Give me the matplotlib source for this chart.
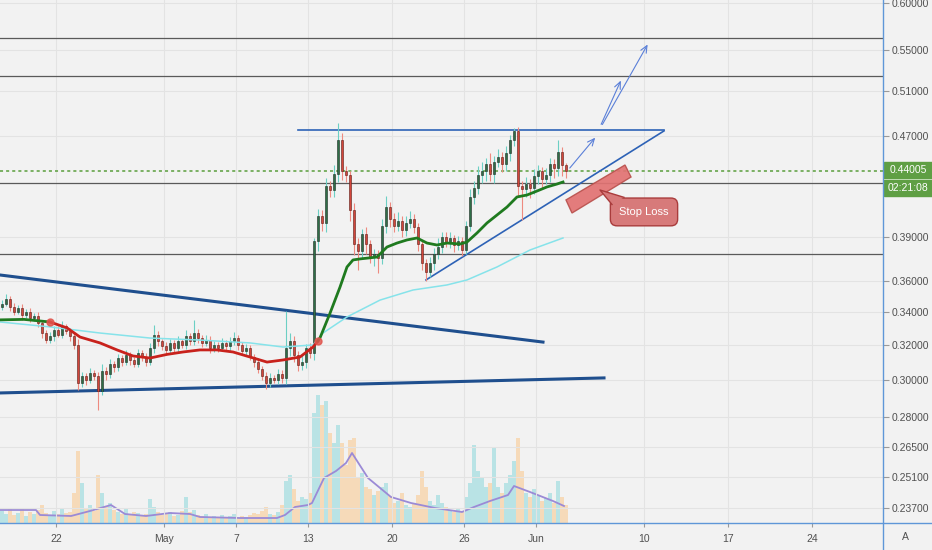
import matplotlib
matplotlib.use("Agg")
import matplotlib.pyplot as plt
import matplotlib.dates as mdates
from matplotlib.patches import Polygon, Rectangle
from matplotlib.lines import Line2D
from matplotlib.ticker import FixedLocator, NullLocator, FixedFormatter
import numpy as np
import pandas as pd

plt.rcParams['font.family'] = ['Liberation Sans', 'DejaVu Sans']

# ---- data (8h candles) ----
candle_start = '2019-04-17 12:00'
first_open = 0.343
closes = [
    0.345, 0.348, 0.343, 0.340, 0.342, 0.338, 0.340, 0.336, 0.337, 0.333,
    0.327, 0.323, 0.325, 0.329, 0.326, 0.331, 0.328, 0.325, 0.320, 0.298,
    0.302, 0.300, 0.304, 0.302, 0.294, 0.305, 0.303, 0.309, 0.307, 0.312,
    0.310, 0.314, 0.311, 0.309, 0.315, 0.313, 0.310, 0.318, 0.326, 0.322,
    0.319, 0.317, 0.321, 0.318, 0.322, 0.320, 0.325, 0.322, 0.327, 0.324,
    0.321, 0.323, 0.318, 0.320, 0.318, 0.321, 0.319, 0.322, 0.324, 0.320,
    0.316, 0.318, 0.313, 0.310, 0.306, 0.302, 0.298, 0.301, 0.300, 0.303,
    0.301, 0.318, 0.322, 0.314, 0.308, 0.310, 0.318, 0.315, 0.387, 0.405,
    0.400, 0.428, 0.425, 0.438, 0.466, 0.440, 0.437, 0.410, 0.385, 0.380,
    0.392, 0.385, 0.376, 0.378, 0.375, 0.398, 0.412, 0.403, 0.398, 0.402,
    0.395, 0.400, 0.403, 0.397, 0.385, 0.372, 0.366, 0.372, 0.378, 0.383,
    0.390, 0.386, 0.389, 0.384, 0.387, 0.381, 0.398, 0.420, 0.427, 0.437,
    0.440, 0.446, 0.438, 0.448, 0.452, 0.446, 0.455, 0.466, 0.474, 0.428,
    0.426, 0.430, 0.427, 0.436, 0.440, 0.434, 0.437, 0.446, 0.443, 0.456,
    0.445, 0.44005]
# wick lengths in % beyond the body
up_wick = [
    0.6, 0.9, 0.5, 0.7, 0.6, 0.8, 0.5, 0.7, 0.6, 0.9,
    0.5, 0.6, 0.8, 0.7, 0.6, 0.9, 0.5, 0.6, 0.7, 1.0,
    0.8, 0.6, 0.9, 0.5, 0.7, 1.2, 0.6, 0.9, 0.5, 0.8,
    0.6, 0.9, 0.5, 0.6, 0.8, 0.5, 0.7, 1.0, 1.8, 0.6,
    0.5, 0.8, 0.7, 0.6, 0.9, 0.5, 1.2, 0.6, 2.4, 0.7,
    0.5, 0.8, 0.6, 0.7, 0.5, 0.9, 0.6, 0.8, 1.1, 0.6,
    0.5, 0.7, 0.6, 0.5, 0.8, 0.6, 0.7, 0.9, 0.6, 1.0,
    0.8, 7.0, 1.5, 0.9, 0.7, 1.2, 0.8, 1.0, 0.6, 1.4,
    1.2, 1.5, 1.0, 1.6, 3.2, 1.3, 1.0, 0.8, 1.2, 1.1,
    0.9, 1.4, 0.8, 1.0, 0.7, 1.2, 2.0, 0.9, 1.1, 1.6,
    0.8, 1.3, 1.5, 0.9, 0.8, 0.7, 0.6, 1.0, 1.2, 1.6,
    1.0, 0.9, 1.2, 0.7, 0.9, 0.8, 1.0, 1.4, 1.2, 1.6,
    1.8, 1.2, 2.0, 1.1, 1.5, 0.9, 1.3, 1.0, 0.6, 0.8,
    1.0, 1.2, 0.9, 1.4, 1.1, 0.8, 1.3, 1.2, 1.0, 2.2,
    1.0, 0.5]
down_wick = [
    0.6, 0.5, 0.8, 0.7, 0.5, 0.9, 0.6, 0.7, 0.5, 0.8,
    1.0, 0.7, 0.6, 0.8, 0.5, 0.7, 0.6, 0.9, 0.8, 1.3,
    0.7, 0.9, 0.6, 0.8, 3.4, 0.8, 1.0, 0.6, 0.9, 0.7,
    0.8, 0.6, 0.9, 0.7, 0.6, 0.8, 0.7, 0.6, 0.9, 0.8,
    0.7, 0.9, 0.6, 0.8, 0.7, 0.6, 0.8, 0.7, 0.6, 0.9,
    0.8, 0.6, 0.9, 0.7, 0.8, 0.6, 0.7, 0.8, 0.6, 0.9,
    0.7, 0.8, 0.6, 0.9, 0.7, 0.8, 1.0, 0.7, 0.6, 0.8,
    0.9, 1.2, 1.5, 1.3, 1.0, 0.8, 1.1, 0.9, 1.2, 1.8,
    1.5, 1.6, 1.3, 1.2, 1.4, 1.6, 1.2, 2.0, 2.0, 3.4,
    1.5, 1.8, 1.2, 1.6, 2.7, 1.0, 1.2, 1.5, 1.1, 0.9,
    1.3, 1.0, 0.8, 1.1, 1.2, 1.4, 1.7, 1.0, 1.3, 0.9,
    1.1, 0.8, 1.0, 1.2, 0.9, 1.1, 0.8, 1.0, 1.4, 1.2,
    1.5, 1.8, 1.3, 1.6, 1.0, 1.4, 1.2, 1.5, 1.0, 2.0,
    5.6, 1.5, 1.8, 1.2, 1.4, 1.6, 1.0, 1.3, 1.8, 1.5,
    2.0, 1.2]
volumes = [
    12, 9, 14, 8, 10, 15, 7, 11, 9, 13,
    18, 10, 8, 12, 9, 14, 10, 11, 30, 72,
    40, 15, 18, 12, 48, 30, 16, 20, 13, 11,
    9, 14, 8, 11, 10, 8, 9, 24, 16, 11,
    8, 9, 11, 7, 8, 12, 26, 11, 13, 8,
    7, 9, 6, 7, 5, 8, 6, 7, 9, 5,
    7, 6, 8, 10, 9, 12, 16, 9, 8, 11,
    18, 42, 48, 34, 22, 26, 24, 30, 110, 128,
    118, 122, 90, 80, 98, 80, 58, 83, 85, 45,
    50, 36, 34, 28, 32, 36, 40, 27, 20, 22,
    30, 18, 16, 20, 28, 52, 36, 22, 18, 28,
    20, 16, 13, 11, 14, 12, 26, 40, 78, 52,
    45, 36, 40, 75, 36, 30, 40, 48, 62, 85,
    52, 30, 26, 34, 27, 22, 25, 30, 20, 42,
    26, 18]

fast_ma_dates = [
    '2019-04-17 08:00', '2019-04-19 08:00', '2019-04-21 12:00', '2019-04-22 22:00',
    '2019-04-24 00:00', '2019-04-25 16:00', '2019-04-27 02:00', '2019-04-28 10:00',
    '2019-04-29 20:00', '2019-05-01 06:00', '2019-05-02 14:00', '2019-05-04 00:00',
    '2019-05-05 10:00', '2019-05-06 18:00', '2019-05-08 04:00', '2019-05-09 14:00',
    '2019-05-10 22:00', '2019-05-12 08:00', '2019-05-13 10:00', '2019-05-13 20:00',
    '2019-05-14 00:00', '2019-05-14 20:00', '2019-05-15 16:00', '2019-05-16 06:00',
    '2019-05-16 18:00', '2019-05-17 08:00', '2019-05-18 18:00', '2019-05-19 14:00',
    '2019-05-20 10:00', '2019-05-21 06:00', '2019-05-22 02:00', '2019-05-22 22:00',
    '2019-05-23 18:00', '2019-05-24 14:00', '2019-05-25 16:00', '2019-05-26 06:00',
    '2019-05-27 02:00', '2019-05-27 22:00', '2019-05-28 18:00', '2019-05-29 14:00',
    '2019-05-30 10:00', '2019-05-31 06:00', '2019-06-01 02:00', '2019-06-01 22:00',
    '2019-06-02 18:00', '2019-06-03 06:00']
fast_ma = [
    0.3349, 0.3352, 0.3336, 0.3300, 0.3245, 0.3210, 0.3169, 0.3134,
    0.3122, 0.3143, 0.3157, 0.3169, 0.3169, 0.3157, 0.3128, 0.3099,
    0.3111, 0.3128, 0.3186, 0.3222, 0.3240, 0.3390, 0.3557, 0.3691,
    0.3739, 0.3746, 0.3759, 0.3829, 0.3857, 0.3879, 0.3893, 0.3857,
    0.3843, 0.3857, 0.3850, 0.3864, 0.3929, 0.4002, 0.4061, 0.4121,
    0.4198, 0.4213, 0.4244, 0.4276, 0.4299, 0.4315]
ma_red_from = '2019-04-21 12:00'
ma_red_to = '2019-05-13 20:00'

slow_ma_dates = [
    '2019-04-17 08:00', '2019-04-21 12:00', '2019-04-25 16:00', '2019-04-29 20:00',
    '2019-05-04 00:00', '2019-05-08 04:00', '2019-05-10 22:00', '2019-05-13 10:00',
    '2019-05-14 06:00', '2019-05-16 06:00', '2019-05-19 00:00', '2019-05-21 18:00',
    '2019-05-24 14:00', '2019-05-26 06:00', '2019-05-28 18:00', '2019-05-31 12:00',
    '2019-06-03 06:00']
slow_ma = [
    0.3336, 0.3306, 0.3269, 0.3239, 0.3227, 0.3210, 0.3186, 0.3198,
    0.3269, 0.3367, 0.3473, 0.3538, 0.3571, 0.3604, 0.3691, 0.3808, 0.3893]

vol_ma_dates = [
    '2019-04-17 08:00', '2019-04-20 08:00', '2019-04-20 16:00', '2019-04-23 06:00',
    '2019-04-24 20:00', '2019-04-26 14:00', '2019-04-27 18:00', '2019-04-29 12:00',
    '2019-05-01 12:00', '2019-05-03 04:00', '2019-05-04 00:00', '2019-05-07 08:00',
    '2019-05-10 10:00', '2019-05-11 02:00', '2019-05-11 22:00', '2019-05-13 00:00',
    '2019-05-13 08:00', '2019-05-14 08:00', '2019-05-15 08:00', '2019-05-16 04:00',
    '2019-05-16 16:00', '2019-05-18 00:00', '2019-05-19 22:00', '2019-05-21 14:00',
    '2019-05-23 14:00', '2019-05-25 20:00', '2019-05-26 20:00', '2019-05-28 04:00',
    '2019-05-29 16:00', '2019-05-30 04:00', '2019-05-31 12:00', '2019-06-02 10:00',
    '2019-06-03 08:00']
vol_ma = [13, 13, 8, 7, 12, 18, 9, 7, 10, 9, 6, 5, 5, 8, 16, 18, 20,
          45, 52, 60, 70, 45, 26, 20, 15, 11, 16, 22, 28, 37, 31, 22, 17]

last_price = 0.44005
levels = [0.562, 0.524, 0.431, 0.378]
price_ticks = [0.60, 0.55, 0.51, 0.47, 0.39, 0.36, 0.34, 0.32, 0.30,
               0.28, 0.265, 0.251, 0.237]
date_ticks = ['2019-04-22', '2019-05-01', '2019-05-07', '2019-05-13', '2019-05-20',
              '2019-05-26', '2019-06-01', '2019-06-10', '2019-06-17', '2019-06-24']
date_labels = ['22', 'May', '7', '13', '20', '26', 'Jun', '10', '17', '24']

# drawings: (date, price) pairs
thick_lines = [
    [('2019-04-17 08:00', 0.3637), ('2019-06-01 14:00', 0.3215)],
    [('2019-04-17 08:00', 0.2928), ('2019-06-06 16:00', 0.3010)],
]
thin_lines = [
    [('2019-05-12 04:00', 0.475), ('2019-06-11 16:00', 0.475)],
    [('2019-05-22 20:00', 0.3604), ('2019-06-11 16:00', 0.474)],
]
arrows = [
    [('2019-06-03 16:00', 0.441), ('2019-06-06 02:00', 0.470)],
    [('2019-06-06 08:00', 0.4775), ('2019-06-08 04:00', 0.5224)],
    [('2019-06-06 10:00', 0.4775), ('2019-06-10 10:00', 0.5581)],
]
stop_zone = [('2019-06-03 12:00', 0.4175), ('2019-06-04 00:00', 0.4076),
             ('2019-06-08 22:00', 0.4355), ('2019-06-08 10:00', 0.4452)]
callout_center = ('2019-06-10 00:00', 0.4084)
callout_pointer = [('2019-06-07 08:00', 0.4140), ('2019-06-06 08:00', 0.4252),
                   ('2019-06-08 08:00', 0.4195)]

BG = '#f2f2f2'
UP, UP_EDGE, UP_WICK = '#2f6e47', '#1d2b22', '#6ccfc4'
DN, DN_EDGE, DN_WICK = '#d2463b', '#5a1c16', '#ee8a80'
AXIS_BLUE = '#5f97d8'


def num(d):
    return mdates.date2num(pd.Timestamp(d))


fig = plt.figure(figsize=(9.32, 5.5), dpi=100, facecolor=BG)
rect = [0, 27 / 550, 883 / 932, 523 / 550]
ax_vol = fig.add_axes(rect)
ax = fig.add_axes(rect, sharex=ax_vol)
for a in (ax_vol, ax):
    a.set_facecolor('none')
    for s in a.spines.values():
        s.set_visible(False)

t = mdates.date2num(pd.date_range(candle_start, periods=len(closes), freq='8h'))
c = np.array(closes)
o = np.array([first_open] + closes[:-1])
hi = np.maximum(o, c) * (1 + np.array(up_wick) / 100)
lo = np.minimum(o, c) * (1 - np.array(down_wick) / 100)
up = c >= o

# volume
vol = np.array(volumes)
ax_vol.bar(t[up], vol[up], width=0.3, color='#a6dfe1', alpha=0.75, zorder=1)
ax_vol.bar(t[~up], vol[~up], width=0.3, color='#f8d3a6', alpha=0.75, zorder=1)
ax_vol.plot([num(d) for d in vol_ma_dates], vol_ma, color='#9b8ad6', lw=1.3, zorder=2)
ax_vol.set_ylim(0, 523)
ax_vol.set_yticks([])
ax_vol.tick_params(axis='x', bottom=False, labelbottom=False)

# price pane
ax.set_yscale('log')
ax.set_ylim(0.23054, 0.60295)
ax.set_xlim(num('2019-04-17 08:00'), num('2019-06-29 22:00'))
ax.grid(True, color='#e3e3e3', lw=0.8)
ax.set_axisbelow(True)

for lv in levels:
    ax.axhline(lv, color='#5a5a5a', lw=0.9, zorder=2)
ax.axhline(last_price, color='#5a9e3c', lw=1.1, ls=(0, (2, 2)), zorder=2)

for seg in thick_lines:
    ax.plot([num(p[0]) for p in seg], [p[1] for p in seg], color='#1f4f8e', lw=2.2, zorder=3)
for seg in thin_lines:
    ax.plot([num(p[0]) for p in seg], [p[1] for p in seg], color='#2d62b6', lw=1.2, zorder=3)

ax.vlines(t[up], lo[up], hi[up], color=UP_WICK, lw=0.8, zorder=4)
ax.vlines(t[~up], lo[~up], hi[~up], color=DN_WICK, lw=0.8, zorder=4)
body_lo = np.minimum(o, c)
body_h = np.maximum(np.abs(c - o), 0.0009)
ax.bar(t[up], body_h[up], bottom=body_lo[up], width=0.18, color=UP,
       edgecolor=UP_EDGE, lw=0.4, zorder=5)
ax.bar(t[~up], body_h[~up], bottom=body_lo[~up], width=0.18, color=DN,
       edgecolor=DN_EDGE, lw=0.4, zorder=5)

# moving averages
ax.plot([num(d) for d in slow_ma_dates], slow_ma, color='#86e3ea', lw=1.1, zorder=6)
mt = np.array([num(d) for d in fast_ma_dates])
mv = np.array(fast_ma)
r0, r1 = num(ma_red_from), num(ma_red_to)
g1 = mt <= r0
rd = (mt >= r0) & (mt <= r1)
g2 = mt >= r1
ax.plot(mt[g1], mv[g1], color='#1f7a1f', lw=2.0, zorder=7)
ax.plot(mt[rd], mv[rd], color='#c8221c', lw=2.0, zorder=7)
ax.plot(mt[g2], mv[g2], color='#1f7a1f', lw=2.0, zorder=7)
ax.plot([r0, r1], [mv[mt == r0][0], mv[mt == r1][0]], 'o', color='#e0554d',
        ms=5, alpha=0.85, zorder=8)

# arrows and stop loss annotation
for a in arrows:
    ax.annotate('', xy=(num(a[1][0]), a[1][1]), xytext=(num(a[0][0]), a[0][1]),
                arrowprops=dict(arrowstyle='->,head_length=0.5,head_width=0.22',
                                color='#5a7fd8', lw=0.8), zorder=8)
ax.add_patch(Polygon([(num(d), p) for d, p in stop_zone], closed=True,
                     fc='#e27272', ec='#b9514d', lw=1.0, alpha=0.92, zorder=8))
ax.text(num(callout_center[0]), callout_center[1], 'Stop Loss', color='white',
        fontsize=8, ha='center', va='center', zorder=9,
        bbox=dict(boxstyle='round,pad=0.8,rounding_size=0.6', fc='#d77a7a',
                  ec='#a93c3c', lw=1.0))
ptr = [(num(d), p) for d, p in callout_pointer]
ax.add_patch(Polygon(ptr, closed=True, fc='#d77a7a', ec='none', zorder=10))
ax.plot([q[0] for q in ptr], [q[1] for q in ptr], color='#a93c3c', lw=1.0, zorder=10)

# axes
ax.yaxis.tick_right()
ax.yaxis.set_major_locator(FixedLocator(price_ticks))
ax.yaxis.set_minor_locator(NullLocator())
ax.yaxis.set_major_formatter(FixedFormatter(['%.5f' % v for v in price_ticks]))
ax.xaxis.set_major_locator(FixedLocator([num(d) for d in date_ticks]))
ax.xaxis.set_minor_locator(NullLocator())
ax.xaxis.set_major_formatter(FixedFormatter(date_labels))
ax.tick_params(axis='y', length=4, color='#9a9a9a', labelcolor='#505050',
               labelsize=7.5, pad=2.5)
ax.tick_params(axis='x', length=3, color='#9a9a9a', labelcolor='#505050',
               labelsize=7.5, pad=5)

fig.add_artist(Line2D([0, 1], [27 / 550, 27 / 550], color=AXIS_BLUE, lw=1.0,
                      transform=fig.transFigure))
fig.add_artist(Line2D([883 / 932, 883 / 932], [0, 1], color=AXIS_BLUE, lw=1.0,
                      transform=fig.transFigure))

# last price label
fig.add_artist(Rectangle((884 / 932, 1 - 196 / 550), 48 / 932, 34 / 550,
                         color='#5f9f44', transform=fig.transFigure))
fig.add_artist(Line2D([884 / 932, 1], [1 - 179 / 550] * 2, color='#cfe6c4', lw=0.6,
                      transform=fig.transFigure))
fig.text(908 / 932, 1 - 170 / 550, '%.5f' % last_price, color='white', fontsize=7.5,
         ha='center', va='center')
fig.text(908 / 932, 1 - 188 / 550, '02:21:08', color='white', fontsize=7.5,
         ha='center', va='center')
fig.text(905 / 932, 1 - 537 / 550, 'A', color='#505050', fontsize=7.5,
         ha='center', va='center')

fig.savefig('out.png', dpi=100, facecolor=BG)
